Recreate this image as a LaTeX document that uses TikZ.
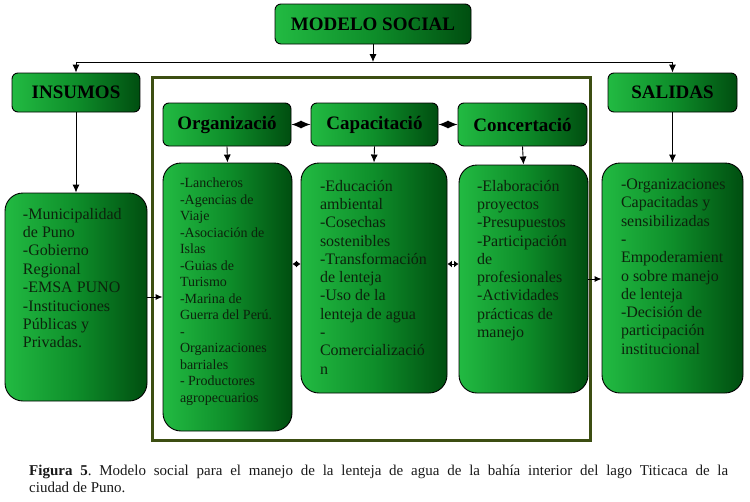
\documentclass[tikz,border=0pt]{standalone}
\usepackage{fontspec}
\setmainfont{Liberation Serif}
\usetikzlibrary{arrows.meta}
\definecolor{gl}{RGB}{34,186,66}
\definecolor{gm}{RGB}{14,142,42}
\definecolor{gd}{RGB}{0,78,16}
\definecolor{frameol}{RGB}{60,78,18}
\definecolor{txt}{RGB}{12,35,12}
\definecolor{captxt}{RGB}{25,25,25}
\newcommand\listfont[2]{\fontsize{#1}{#2}\selectfont\raggedright\hyphenpenalty=10000 \exhyphenpenalty=10000 }
\begin{document}
\begin{tikzpicture}[x=1pt,y=-1pt,
  titlebox/.style={draw=black, line width=0.9pt, rounded corners=6pt,
    left color=gl, right color=gd, middle color=gm, inner sep=0pt,
    font=\bfseries\fontsize{19}{21}\selectfont, text=black},
  listbox/.style={draw=black, line width=0.9pt, rounded corners=18pt,
    left color=gl, right color=gd, middle color=gm, text=txt},
  conn/.style={line width=0.9pt, -{Latex[length=8pt,width=7pt]}},
  dconn/.style={line width=0.9pt, {Latex[length=10pt,width=8pt]}-{Latex[length=10pt,width=8pt]}},
  sconn/.style={line width=0.9pt, {Latex[length=4.5pt,width=7pt]}-{Latex[length=4.5pt,width=7pt]}},
  hconn/.style={line width=0.9pt, -{Latex[length=7pt,width=6pt]}}
]
\useasboundingbox (0,0) rectangle (750,501);

% frame
\node[draw=frameol, line width=3pt, minimum width=438, minimum height=363, inner sep=0pt] (frame) at (371,258.5) {};

% title boxes
\node[titlebox, minimum width=196, minimum height=40] (modelo) at (373,24) {MODELO SOCIAL};
\node[titlebox, minimum width=128, minimum height=39] (insumos) at (76,92.5) {INSUMOS};
\node[titlebox, minimum width=129, minimum height=39] (salidas) at (672.5,92.5) {SALIDAS};
\node[titlebox, minimum width=128, minimum height=43] (org) at (227,124.5) {Organizació};
\node[titlebox, minimum width=127, minimum height=43] (cap) at (374.5,124.5) {Capacitació};
\node[titlebox, minimum width=129, minimum height=43] (conc) at (522.5,124.5) {Concertació};

% list boxes
\node[listbox, inner xsep=18pt, inner ysep=15pt] (insb) at (76,297)
  {\parbox[c][178pt][t]{106pt}{\listfont{16}{18.4}%
  -Municipalidad\\de Puno\\-Gobierno\\Regional\\-EMSA PUNO\\-Instituciones\\Públicas y\\Privadas.}};
\node[listbox, inner xsep=17pt, inner ysep=15pt] (orgb) at (227.5,297)
  {\parbox[c][238pt][t]{95pt}{\listfont{14}{16.5}%
  -Lancheros\\-Agencias de\\Viaje\\-Asociación de\\Islas\\-Guias de\\Turismo\\-Marina de\\Guerra del Perú.\\-\\Organizaciones\\barriales\\- Productores\\agropecuarios}};
\node[listbox, inner xsep=19pt, inner ysep=17pt] (capb) at (374,278)
  {\parbox[c][196pt][t]{108pt}{\listfont{16}{18.3}%
  -Educación\\ambiental\\-Cosechas\\sostenibles\\-Transformación\\de lenteja\\-Uso de la\\lenteja de agua\\-\\Comercializació\\n}};
\node[listbox, inner xsep=18pt, inner ysep=15pt] (concb) at (523.5,279)
  {\parbox[c][198pt][t]{93pt}{\listfont{16}{18.3}%
  -Elaboración\\proyectos\\-Presupuestos\\-Participación\\de\\profesionales\\-Actividades\\prácticas de\\manejo}};
\node[listbox, inner xsep=19pt, inner ysep=16pt] (salb) at (672.5,278)
  {\parbox[c][198pt][t]{103pt}{\listfont{16}{18.3}%
  -Organizaciones\\Capacitadas y\\sensibilizadas\\-\\Empoderamient\\o sobre manejo\\de lenteja\\-Decisión de\\participación\\institucional}};

% connectors
\coordinate (j) at (373,62);
\draw[conn] (modelo.south) -- (j);
\draw[conn] (j) -| (insumos.north);
\draw[conn] (j) -| (salidas.north);
\draw[conn] (insumos.south) -- (insb.north);
\draw[conn] (salidas.south) -- (salb.north);
\draw[conn] (org.south) -- (orgb.north);
\draw[conn] (cap.south) -- (capb.north);
\draw[conn] (conc.south) -- (concb.north);
\draw[dconn] (org.east) -- (cap.west);
\draw[dconn] (cap.east) -- (conc.west);
\draw[hconn] (insb.east) -- (orgb.west |- insb.east);
\draw[hconn] (concb.east) -- (salb.west |- concb.east);
\draw[sconn] (orgb.east |- 0,264) -- (capb.west |- 0,264);
\draw[sconn] (capb.east |- 0,264) -- (concb.west |- 0,264);

% caption
\node[anchor=north west, inner sep=0pt, text width=699pt, align=justify,
  font=\fontsize{15}{17}\selectfont\frenchspacing, text=captxt] (caption) at (29,465)
  {\textbf{Figura 5}. Modelo social para el manejo de la lenteja de agua de la bahía interior del lago Titicaca de la\linebreak ciudad de Puno.};
\end{tikzpicture}
\end{document}
